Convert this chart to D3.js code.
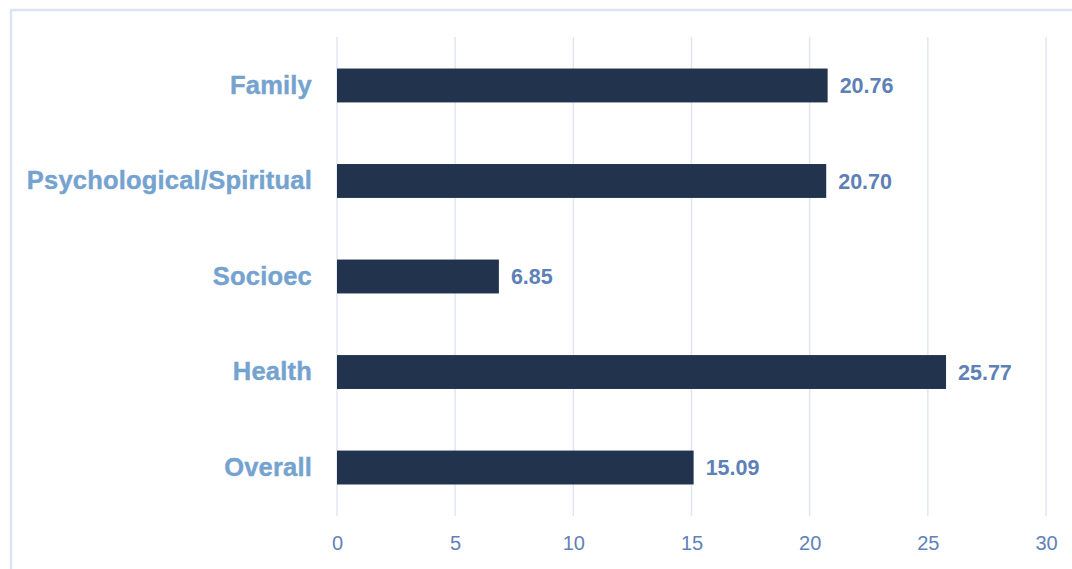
<!DOCTYPE html>
<html>
<head>
<meta charset="utf-8">
<script src="https://cdn.jsdelivr.net/npm/d3@7"></script>
<style>
  body { margin: 0; background: #fff; }
  text { font-family: "Liberation Sans", Arial, sans-serif; }
</style>
</head>
<body>
<div id="chart"></div>
<script>
// category scores
const categories = ["Family", "Psychological/Spiritual", "Socioec", "Health", "Overall"];
const scores = [20.76, 20.70, 6.85, 25.77, 15.09];
const tickValues = [0, 5, 10, 15, 20, 25, 30];

const width = 1072, height = 569;
const margin = {top: 37, right: 26, bottom: 53, left: 337};

const svg = d3.select("#chart").append("svg")
    .attr("width", width)
    .attr("height", height);

// light frame around the chart
svg.append("rect")
    .attr("x", 11).attr("y", 10)
    .attr("width", 1200).attr("height", 700)
    .attr("fill", "none")
    .attr("stroke", "#dbe4f1")
    .attr("stroke-width", 2.5);

const x = d3.scaleLinear()
    .domain([0, 30])
    .range([margin.left, width - margin.right]);

const y = d3.scaleBand()
    .domain(categories)
    .range([margin.top, height - margin.bottom])
    .paddingInner(0.645)
    .paddingOuter(0.33);

// grid lines
svg.append("g")
    .selectAll("line")
    .data(tickValues)
    .join("line")
    .attr("x1", d => x(d)).attr("x2", d => x(d))
    .attr("y1", margin.top).attr("y2", height - margin.bottom)
    .attr("stroke", "#e0e7f2")
    .attr("stroke-width", 1.5);

// x axis labels
const xAxis = d3.axisBottom(x).tickValues(tickValues).tickSize(0).tickPadding(0);
svg.append("g")
    .attr("transform", `translate(0,${height - 19})`)
    .call(xAxis)
    .call(g => g.select(".domain").remove())
    .selectAll("text")
    .attr("dy", 0)
    .attr("font-size", 20)
    .attr("fill", "#5f82b8")
    .attr("font-family", "Liberation Sans, Arial, sans-serif");

// category labels
const yAxis = d3.axisLeft(y).tickSize(0).tickPadding(25);
svg.append("g")
    .attr("transform", `translate(${margin.left},0)`)
    .call(yAxis)
    .call(g => g.select(".domain").remove())
    .selectAll("text")
    .attr("font-size", 25.5)
    .attr("font-weight", "bold")
    .attr("fill", "#75a3cf")
    .attr("stroke", "#75a3cf")
    .attr("stroke-width", 0.4)
    .attr("letter-spacing", 0.2)
    .attr("font-family", "Liberation Sans, Arial, sans-serif");

// bars
svg.append("g")
    .selectAll("rect")
    .data(categories)
    .join("rect")
    .attr("x", x(0))
    .attr("y", d => y(d))
    .attr("width", (d, i) => x(scores[i]) - x(0))
    .attr("height", y.bandwidth())
    .attr("fill", "#22334d");

// value labels
svg.append("g")
    .selectAll("text")
    .data(categories)
    .join("text")
    .attr("x", (d, i) => x(scores[i]) + 12)
    .attr("y", d => y(d) + y.bandwidth() / 2)
    .attr("dy", "0.36em")
    .attr("font-size", 21.5)
    .attr("font-weight", "bold")
    .attr("fill", "#5d81b7")
    .text((d, i) => scores[i].toFixed(2));
</script>
</body>
</html>
